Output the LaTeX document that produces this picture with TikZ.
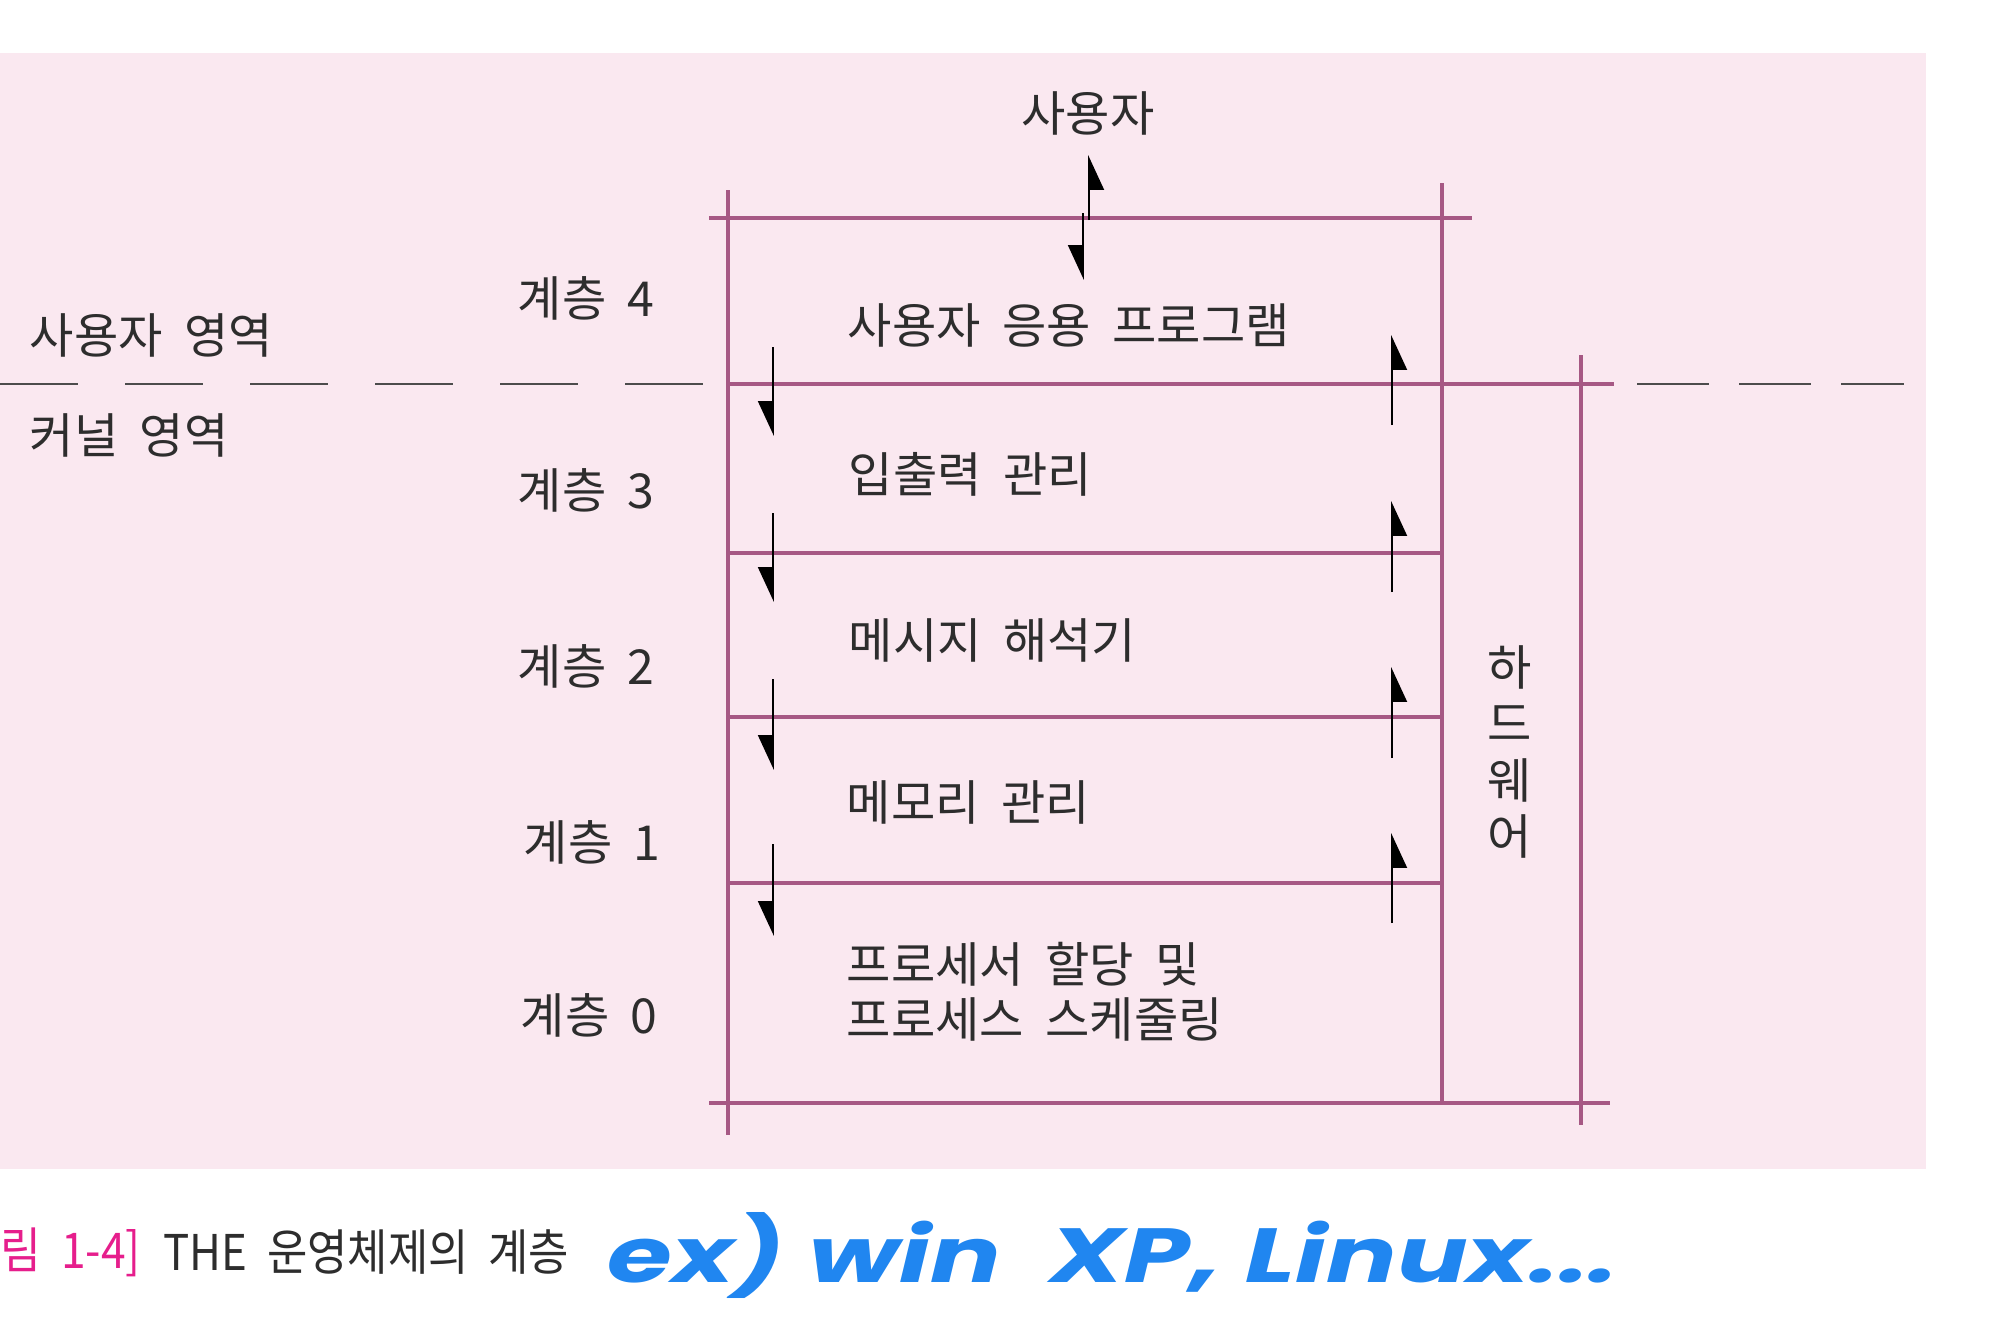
\documentclass[tikz,border=0pt]{standalone}
\usepackage{fontspec}
\usepackage{graphicx}
\setmainfont{Noto Sans CJK KR}[WordSpace=2]
\newfontfamily\handfont{Poppins}
\usetikzlibrary{arrows.meta}
\definecolor{sfondo}{RGB}{250,232,240}
\definecolor{bordo}{RGB}{166,88,132}
\definecolor{testo}{RGB}{45,45,45}
\definecolor{didascalia}{RGB}{230,30,140}
\definecolor{penna}{RGB}{32,134,240}
\begin{document}
\begin{tikzpicture}[x=0.01cm, y=-0.01cm,
    linea/.style={draw=bordo, line width=1.2pt},
    confine/.style={draw=gray!60!black, line width=0.6pt, dash pattern=on 0.78cm off 0.47cm},
    freccia/.style={draw=black, line width=0.5pt,
        -{Triangle[harpoon, swap, length=0.33cm, width=0.30cm]}},
    etichetta/.style={text=testo, inner sep=0pt, font=\fontsize{13.7}{15.6}\selectfont}]

    % Sfondo (pagina bianca e riquadro rosa)
    \fill[white] (0,0) rectangle (2004,1326);
    \useasboundingbox (0,0) rectangle (2004,1326);
    \fill[sfondo] (0,53) rectangle (1926,1169);

    % Linee orizzontali tra gli strati
    \draw[linea] (709,218) -- (1472,218);
    \draw[linea] (727,384) -- (1614,384);
    \foreach \y in {553,717,883}
        \draw[linea] (728,\y) -- (1442,\y);
    \draw[linea] (709,1103) -- (1610,1103);

    % Linee verticali (strati e colonna hardware)
    \draw[linea] (728,190) -- (728,1135);
    \draw[linea] (1442,183) -- (1442,1103);
    \draw[linea] (1581,355) -- (1581,1125);

    % Confine tratteggiato utente / kernel
    \draw[confine] (0,384) -- (709,384);
    \draw[confine, dash pattern=on 0.72cm off 0.30cm] (1637,384) -- (1904,384);

    % Frecce verso il basso (a sinistra) e verso l'alto (a destra)
    \foreach \a/\b in {347/436, 513/602, 679/770, 844/936}
        \draw[freccia] (773,\a) -- (773,\b);
    \foreach \a/\b in {425/335, 592/501, 758/667, 923/833}
        \draw[freccia] (1392,\a) -- (1392,\b);

    % Utente
    \node[etichetta] (utente) at (1088,113) {사용자};
    \draw[freccia] (1089,220) -- (1089,155);
    \draw[freccia] (1083,213) -- (1083,280);

    % Contenuto degli strati
    \node[etichetta, anchor=west] (app) at (847,325) {사용자 응용 프로그램};
    \node[etichetta, anchor=west] (io) at (848,474) {입출력 관리};
    \node[etichetta, anchor=west] (msg) at (848,640) {메시지 해석기};
    \node[etichetta, anchor=west] (mem) at (846,802) {메모리 관리};
    \node[etichetta, anchor=west, align=left] (proc) at (846,992)
        {프로세서 할당 및\\프로세스 스케줄링};
    \node[etichetta, align=center, font=\fontsize{13.7}{16.1}\selectfont] (hw)
        at (1510,752) {하\\드\\웨\\어};

    % Numeri degli strati
    \node[etichetta, anchor=west] (l4) at (517,298) {계층 4};
    \node[etichetta, anchor=west] (l3) at (517,490) {계층 3};
    \node[etichetta, anchor=west] (l2) at (517,666) {계층 2};
    \node[etichetta, anchor=west] (l1) at (523,842) {계층 1};
    \node[etichetta, anchor=west] (l0) at (520,1015) {계층 0};

    % Zone utente e kernel
    \node[etichetta, anchor=west] (zonau) at (29,335) {사용자 영역};
    \node[etichetta, anchor=west] (zonak) at (29,435) {커널 영역};

    % Didascalia e nota a mano
    \node[anchor=west, inner sep=0pt, text=didascalia, font=\fontsize{14}{16}\selectfont]
        (fig) at (0,1252) {\scalebox{0.9}[1]{림 1-4]}};
    \node[anchor=west, inner sep=0pt, text=testo, font=\fontsize{14}{16}\selectfont]
        (titolo) at (163,1252) {\scalebox{0.89}[1]{THE 운영체제의 계층}};
    \node[anchor=west, inner sep=0pt, text=penna] (nota) at (607,1255)
        {\resizebox*{10.1cm}{0.86cm}{\handfont\bfseries\itshape ex)\ win\ \ XP,\ Linux...}};

\end{tikzpicture}
\end{document}
